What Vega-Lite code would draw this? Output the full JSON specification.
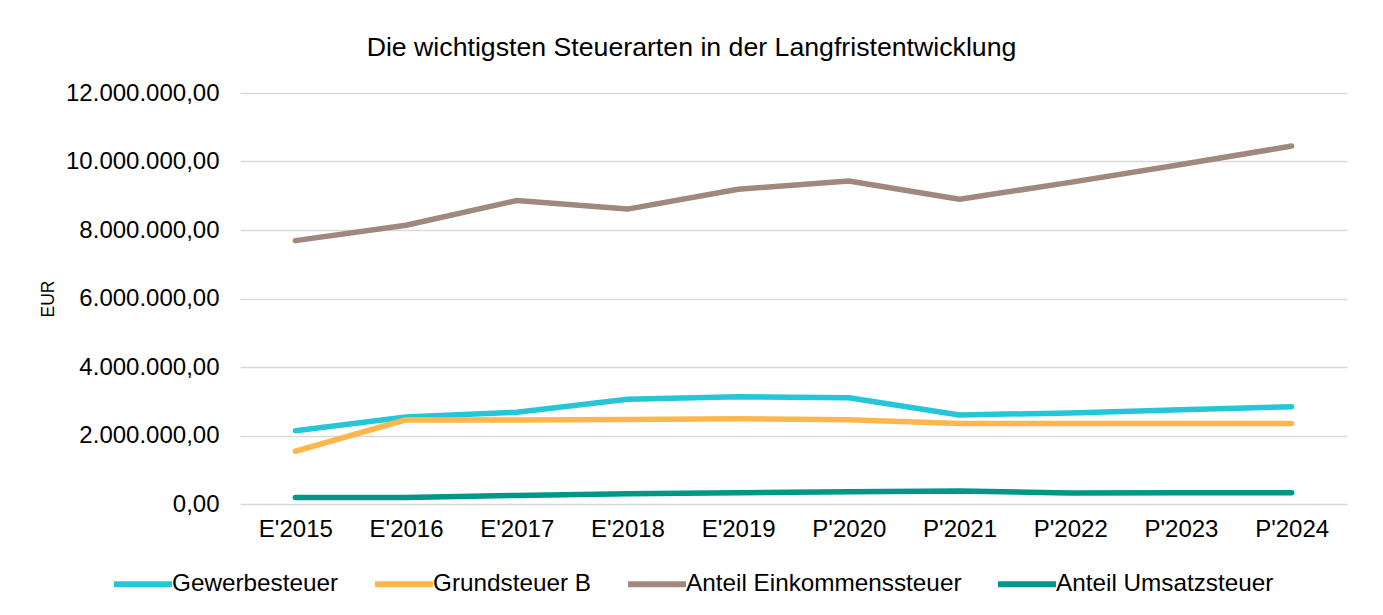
{
  "$schema": "https://vega.github.io/schema/vega-lite/v6.json",
  "width": 1107,
  "height": 411,
  "autosize": {"type": "none"},
  "padding": {"left": 240, "top": 93, "right": 36, "bottom": 111},
  "background": "white",
  "title": {
    "text": "Die wichtigsten Steuerarten in der Langfristentwicklung",
    "fontSize": 26.7,
    "font": "Liberation Sans",
    "fontWeight": "normal",
    "color": "#000000",
    "anchor": "middle",
    "frame": "group",
    "dx": -102,
    "offset": 19
  },
  "datasets": {
    "steuern": [
      {"Jahr": "E'2015", "Steuerart": "Gewerbesteuer", "Wert": 2140000},
      {"Jahr": "E'2016", "Steuerart": "Gewerbesteuer", "Wert": 2540000},
      {"Jahr": "E'2017", "Steuerart": "Gewerbesteuer", "Wert": 2680000},
      {"Jahr": "E'2018", "Steuerart": "Gewerbesteuer", "Wert": 3060000},
      {"Jahr": "E'2019", "Steuerart": "Gewerbesteuer", "Wert": 3130000},
      {"Jahr": "P'2020", "Steuerart": "Gewerbesteuer", "Wert": 3100000},
      {"Jahr": "P'2021", "Steuerart": "Gewerbesteuer", "Wert": 2600000},
      {"Jahr": "P'2022", "Steuerart": "Gewerbesteuer", "Wert": 2660000},
      {"Jahr": "P'2023", "Steuerart": "Gewerbesteuer", "Wert": 2750000},
      {"Jahr": "P'2024", "Steuerart": "Gewerbesteuer", "Wert": 2840000},
      {"Jahr": "E'2015", "Steuerart": "Grundsteuer B", "Wert": 1540000},
      {"Jahr": "E'2016", "Steuerart": "Grundsteuer B", "Wert": 2460000},
      {"Jahr": "E'2017", "Steuerart": "Grundsteuer B", "Wert": 2450000},
      {"Jahr": "E'2018", "Steuerart": "Grundsteuer B", "Wert": 2470000},
      {"Jahr": "E'2019", "Steuerart": "Grundsteuer B", "Wert": 2490000},
      {"Jahr": "P'2020", "Steuerart": "Grundsteuer B", "Wert": 2460000},
      {"Jahr": "P'2021", "Steuerart": "Grundsteuer B", "Wert": 2350000},
      {"Jahr": "P'2022", "Steuerart": "Grundsteuer B", "Wert": 2350000},
      {"Jahr": "P'2023", "Steuerart": "Grundsteuer B", "Wert": 2350000},
      {"Jahr": "P'2024", "Steuerart": "Grundsteuer B", "Wert": 2350000},
      {"Jahr": "E'2015", "Steuerart": "Anteil Einkommenssteuer", "Wert": 7690000},
      {"Jahr": "E'2016", "Steuerart": "Anteil Einkommenssteuer", "Wert": 8140000},
      {"Jahr": "E'2017", "Steuerart": "Anteil Einkommenssteuer", "Wert": 8860000},
      {"Jahr": "E'2018", "Steuerart": "Anteil Einkommenssteuer", "Wert": 8610000},
      {"Jahr": "E'2019", "Steuerart": "Anteil Einkommenssteuer", "Wert": 9190000},
      {"Jahr": "P'2020", "Steuerart": "Anteil Einkommenssteuer", "Wert": 9430000},
      {"Jahr": "P'2021", "Steuerart": "Anteil Einkommenssteuer", "Wert": 8900000},
      {"Jahr": "P'2022", "Steuerart": "Anteil Einkommenssteuer", "Wert": 9390000},
      {"Jahr": "P'2023", "Steuerart": "Anteil Einkommenssteuer", "Wert": 9910000},
      {"Jahr": "P'2024", "Steuerart": "Anteil Einkommenssteuer", "Wert": 10450000},
      {"Jahr": "E'2015", "Steuerart": "Anteil Umsatzsteuer", "Wert": 190000},
      {"Jahr": "E'2016", "Steuerart": "Anteil Umsatzsteuer", "Wert": 190000},
      {"Jahr": "E'2017", "Steuerart": "Anteil Umsatzsteuer", "Wert": 250000},
      {"Jahr": "E'2018", "Steuerart": "Anteil Umsatzsteuer", "Wert": 300000},
      {"Jahr": "E'2019", "Steuerart": "Anteil Umsatzsteuer", "Wert": 330000},
      {"Jahr": "P'2020", "Steuerart": "Anteil Umsatzsteuer", "Wert": 360000},
      {"Jahr": "P'2021", "Steuerart": "Anteil Umsatzsteuer", "Wert": 380000},
      {"Jahr": "P'2022", "Steuerart": "Anteil Umsatzsteuer", "Wert": 320000},
      {"Jahr": "P'2023", "Steuerart": "Anteil Umsatzsteuer", "Wert": 325000},
      {"Jahr": "P'2024", "Steuerart": "Anteil Umsatzsteuer", "Wert": 330000}
    ]
  },
  "data": {"name": "steuern"},
  "mark": {"type": "line", "strokeWidth": 5.5, "strokeCap": "round", "strokeJoin": "round"},
  "encoding": {
    "x": {
      "field": "Jahr",
      "type": "ordinal",
      "sort": null,
      "scale": {"type": "point", "padding": 0.5},
      "axis": {
        "title": null,
        "labelAngle": 0,
        "labelFontSize": 24,
        "labelColor": "#000000",
        "ticks": false,
        "tickSize": 0,
        "domain": false,
        "grid": false,
        "labelPadding": 13
      }
    },
    "y": {
      "field": "Wert",
      "type": "quantitative",
      "scale": {"domain": [0, 12000000]},
      "axis": {
        "title": "EUR",
        "values": [0, 2000000, 4000000, 6000000, 8000000, 10000000, 12000000],
        "format": ",.2f",
        "labelFontSize": 24,
        "labelColor": "#000000",
        "ticks": false,
        "tickSize": 0,
        "domain": false,
        "labelPadding": 21,
        "gridColor": "#d9d9d9",
        "gridWidth": 1.5,
        "titleFontSize": 17.5,
        "titleFontWeight": "normal",
        "titleColor": "#000000",
        "titlePadding": 8
      }
    },
    "color": {
      "field": "Steuerart",
      "type": "nominal",
      "scale": {
        "domain": ["Gewerbesteuer", "Grundsteuer B", "Anteil Einkommenssteuer", "Anteil Umsatzsteuer"],
        "range": ["#26C6DA", "#FFB74D", "#A1887F", "#009688"]
      },
      "legend": {
        "orient": "none",
        "legendX": -129,
        "legendY": 459,
        "direction": "horizontal",
        "columns": 4,
        "title": null,
        "symbolType": "stroke",
        "symbolStrokeWidth": 6,
        "symbolSize": 3364,
        "labelFontSize": 24.3,
        "labelColor": "#000000",
        "labelOffset": -3,
        "columnPadding": 24,
        "labelLimit": 400
      }
    }
  },
  "config": {
    "font": "Liberation Sans",
    "view": {"stroke": null},
    "locale": {
      "number": {
        "decimal": ",",
        "thousands": ".",
        "grouping": [3],
        "currency": ["", " €"]
      }
    }
  }
}
